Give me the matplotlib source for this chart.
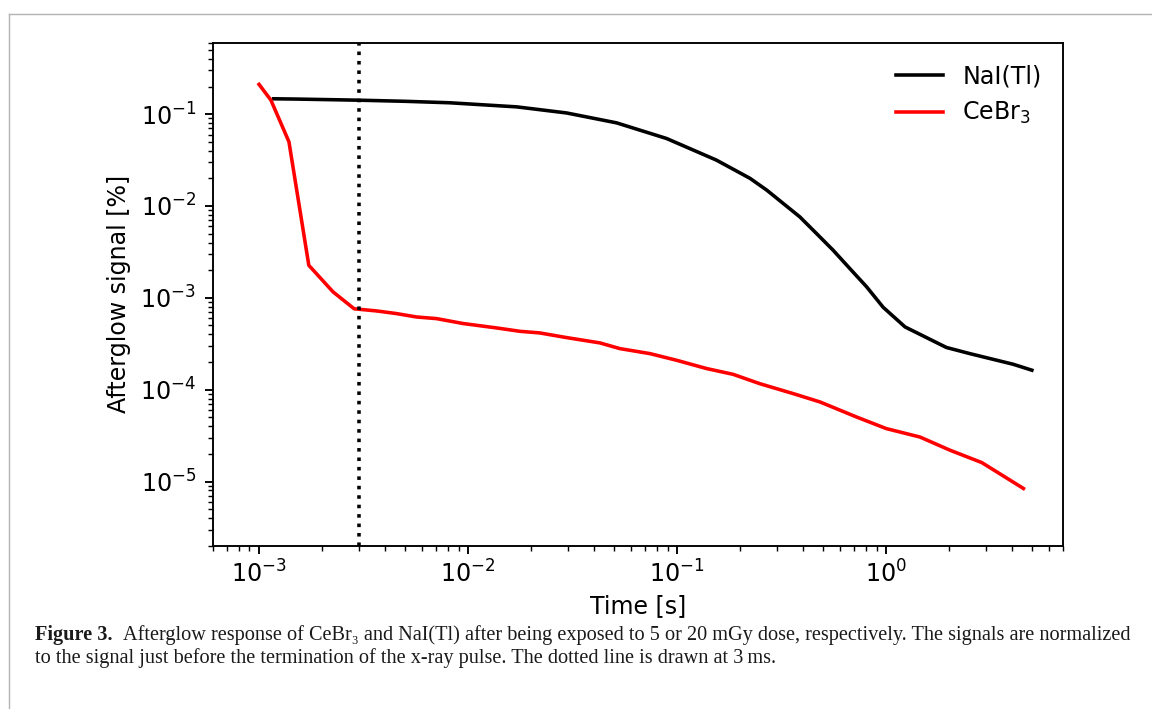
import matplotlib
matplotlib.use('Agg')
import matplotlib.pyplot as plt
from matplotlib.lines import Line2D

# CeBr3 afterglow (time in s, signal in %)
cebr3_time = [1.0e-3, 1.14e-3, 1.39e-3, 1.73e-3, 2.26e-3, 2.85e-3, 3.65e-3, 4.54e-3,
              5.66e-3, 7.06e-3, 9.47e-3, 1.37e-2, 1.77e-2, 2.2e-2, 2.96e-2, 4.27e-2,
              5.32e-2, 7.41e-2, 9.94e-2, 0.138, 0.185, 0.249, 0.359, 0.482, 0.721,
              1.0, 1.45, 2.02, 2.86, 3.63, 4.53]
cebr3_signal = [0.211, 0.142, 0.050, 2.26e-3, 1.16e-3, 7.6e-4, 7.2e-4, 6.74e-4,
                6.19e-4, 5.94e-4, 5.25e-4, 4.70e-4, 4.32e-4, 4.15e-4, 3.69e-4, 3.23e-4,
                2.80e-4, 2.47e-4, 2.09e-4, 1.70e-4, 1.47e-4, 1.16e-4, 9.06e-5, 7.35e-5, 5.04e-5,
                3.77e-5, 3.05e-5, 2.19e-5, 1.61e-5, 1.15e-5, 8.4e-6]

# NaI(Tl) afterglow
nai_time = [1.175e-3, 1.5e-3, 2.96e-3, 5e-3, 8.17e-3, 1.71e-2, 2.96e-2, 5.13e-2,
            8.9e-2, 0.154, 0.223, 0.268, 0.386, 0.464, 0.557, 0.670, 0.805, 0.966,
            1.23, 1.94, 2.51, 4.05, 4.97]
nai_signal = [0.147, 0.146, 0.142, 0.138, 0.133, 0.120, 0.103, 0.0804,
              0.0543, 0.0316, 0.0200, 0.0149, 7.61e-3, 5.01e-3, 3.30e-3, 2.08e-3, 1.32e-3, 7.9e-4,
              4.82e-4, 2.88e-4, 2.47e-4, 1.89e-4, 1.63e-4]

T_CUT = 3e-3  # dotted line at 3 ms

DPI = 171
W, H = 1152, 709

fig = plt.figure(figsize=(W / DPI, H / DPI), dpi=DPI)
ax = fig.add_axes([0.1846, 0.2303, 0.9227 - 0.1846, 0.9398 - 0.2303])

ax.plot(nai_time, nai_signal, color='black', label='NaI(Tl)')
ax.plot(cebr3_time, cebr3_signal, color='red', label='CeBr$_3$')
ax.axvline(T_CUT, color='black', ls=':')

ax.set_xscale('log')
ax.set_yscale('log')
ax.set_xlim(6e-4, 7)
ax.set_ylim(2e-6, 0.6)
ax.set_xlabel('Time [s]', labelpad=3)
ax.set_ylabel('Afterglow signal [%]')
ax.tick_params(axis='x', which='both', pad=2.5)
ax.legend(loc='upper right', frameon=False)

# page frame (left + top edge of the figure box)
grey = '#b4b4b4'
fig.add_artist(Line2D([8.5 / W, 1.0], [1 - 13.5 / H, 1 - 13.5 / H], color=grey, lw=0.6))
fig.add_artist(Line2D([8.5 / W, 8.5 / W], [0, 1 - 13.5 / H], color=grey, lw=0.6))

# caption, sized so the first line runs from x=35 to x=1133 like the page
serif = ['Liberation Serif', 'DejaVu Serif']
x_left, x_right = 35, 1133
y1 = 1 - 635 / H
y2 = 1 - 658 / H
line1 = ('Afterglow response of CeBr\u2083 and NaI(Tl) after being exposed to 5 or 20 mGy '
         'dose, respectively. The signals are normalized')
line2 = ('to the signal just before the termination of the x-ray pulse. '
         'The dotted line is drawn at 3\u2009ms.')

renderer = fig.canvas.get_renderer()
base = 9.0
t_bold = fig.text(x_left / W, y1, 'Figure 3.', family=serif, fontweight='bold',
                  fontsize=base, va='center', ha='left', color='#1a1a1a')
t_rest = fig.text(0, y1, line1, family=serif, fontsize=base,
                  va='center', ha='left', color='#1a1a1a')
w_bold = t_bold.get_window_extent(renderer).width
w_rest = t_rest.get_window_extent(renderer).width
gap = 0.55 * base * DPI / 72  # small gap after the label
scale = (x_right - x_left) / (w_bold + w_rest + gap)
cap_fs = base * scale
t_bold.set_fontsize(cap_fs)
t_rest.set_fontsize(cap_fs)
t_rest.set_x((x_left + (w_bold + gap) * scale) / W)
fig.text(x_left / W, y2, line2, family=serif, fontsize=cap_fs, va='center', ha='left',
         color='#1a1a1a')

fig.savefig('out.png', dpi=DPI)
plt.close(fig)
